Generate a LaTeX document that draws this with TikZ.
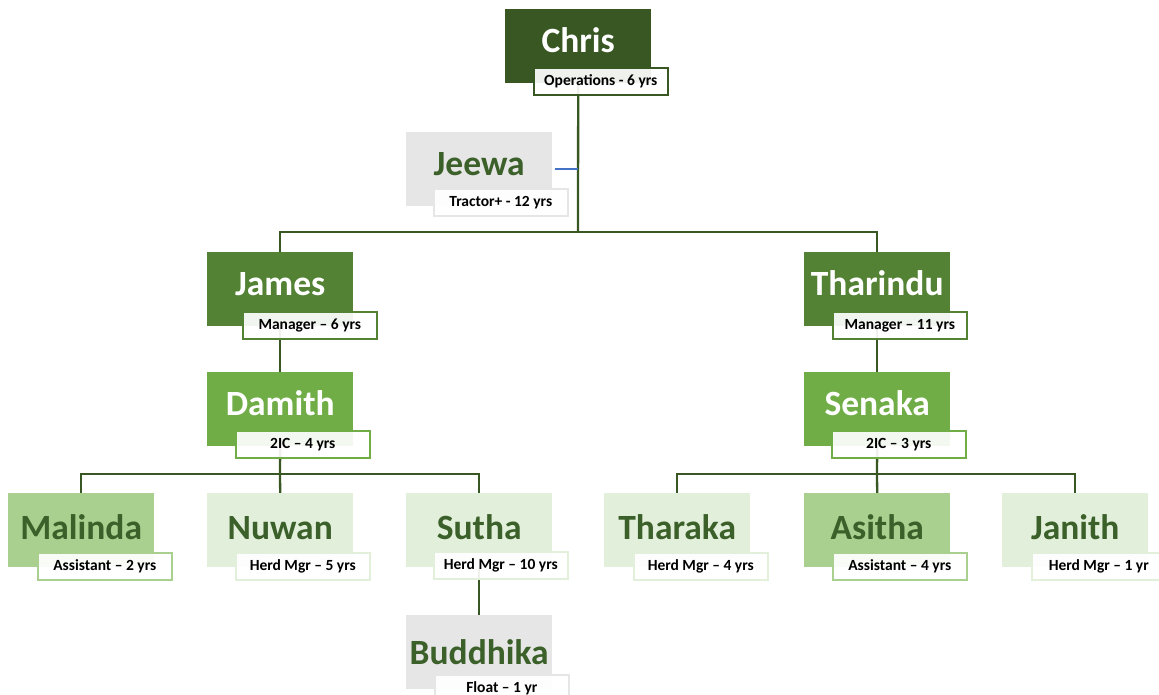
\documentclass[tikz,border=0pt]{standalone}
\usepackage{fontspec}
\setmainfont{Carlito}
\usetikzlibrary{backgrounds,calc}
\definecolor{gA}{HTML}{385723}
\definecolor{gB}{HTML}{548235}
\definecolor{gC}{HTML}{70AD47}
\definecolor{gD}{HTML}{A9D08E}
\definecolor{gE}{HTML}{E2EFDA}
\definecolor{gG}{HTML}{E7E6E6}
\definecolor{txtG}{HTML}{3B6029}
\definecolor{lineG}{HTML}{385723}
\definecolor{lineB}{HTML}{4472C4}
\tikzset{
  person/.style={anchor=north west, minimum width=146pt, minimum height=74pt, inner sep=0pt,
    font=\fontsize{35.5}{38}\selectfont\bfseries},
  rowA/.style={text height=28pt, text depth=16pt},
  rowB/.style={text height=28pt, text depth=16pt},
  rowC/.style={text height=31pt, text depth=13pt},
  rowD/.style={text height=34pt, text depth=10pt},
  darkname/.style={text=white},
  lightname/.style={text=txtG},
  lab/.style={anchor=north west, minimum width=134pt, minimum height=27pt, inner sep=2pt,
    fill=white, fill opacity=0.92, text opacity=1, line width=1.6pt, text=black,
    font=\fontsize{15.5}{17}\selectfont\bfseries},
  conn/.style={draw=lineG, line width=2.3pt},
  aux/.style={draw=lineB, line width=2pt}
}
\begin{document}
\begin{tikzpicture}[x=1pt,y=-1pt]
\useasboundingbox (0,0) rectangle (1159,695);
% boxes
\node[person,rowA,fill=gA,darkname] (chris) at (505,9) {Chris};
\node[lab,draw=gA] (chrisL) at (533,67) {Operations - 6 yrs};
\node[person,rowB,fill=gG,lightname] (jeewa) at (406,132) {Jeewa};
\node[lab,draw=gG] (jeewaL) at (433,188) {Tractor+ - 12 yrs};
\node[person,rowB,fill=gB,darkname] (james) at (207,252) {James};
\node[lab,draw=gB] (jamesL) at (242,311) {Manager – 6 yrs};
\node[person,rowB,fill=gB,darkname] (tharindu) at (804,252) {Tharindu};
\node[lab,draw=gB] (tharinduL) at (832,311) {Manager – 11 yrs};
\node[person,rowB,fill=gC,darkname] (damith) at (207,372) {Damith};
\node[lab,draw=gC] (damithL) at (235,430) {2IC – 4 yrs};
\node[person,rowB,fill=gC,darkname] (senaka) at (804,372) {Senaka};
\node[lab,draw=gC] (senakaL) at (831,430) {2IC – 3 yrs};
\node[person,rowC,fill=gD,lightname] (malinda) at (8,493) {Malinda};
\node[lab,draw=gD] (malindaL) at (37,552) {Assistant – 2 yrs};
\node[person,rowC,fill=gE,lightname] (nuwan) at (207,493) {Nuwan};
\node[lab,draw=gE] (nuwanL) at (235,552) {Herd Mgr – 5 yrs};
\node[person,rowC,fill=gE,lightname] (sutha) at (406,493) {Sutha};
\node[lab,draw=gE] (suthaL) at (433,551) {Herd Mgr – 10 yrs};
\node[person,rowC,fill=gE,lightname] (tharaka) at (604,493) {Tharaka};
\node[lab,draw=gE] (tharakaL) at (633,552) {Herd Mgr – 4 yrs};
\node[person,rowC,fill=gD,lightname] (asitha) at (804,493) {Asitha};
\node[lab,draw=gD] (asithaL) at (832,552) {Assistant – 4 yrs};
\node[person,rowC,fill=gE,lightname] (janith) at (1002,493) {Janith};
\node[lab,draw=gE] (janithL) at (1031,552) {Herd Mgr – 1 yr};
\node[person,rowD,fill=gG,lightname] (buddhika) at (406,615) {Buddhika};
\node[lab,draw=gG] (buddhikaL) at (434,674) {Float – 1 yr};
% junctions
\coordinate (j1) at (578,232);
\coordinate (j2) at (280,474);
\coordinate (j3) at (877,474);
\coordinate (jb) at ($(jeewa.east)+(3,0)$);
\begin{scope}[on background layer]
\draw[conn] (chris.south) -- (j1);
\draw[conn] (james.north) |- (j1) -| (tharindu.north);
\draw[aux] (jb) -- (jb -| j1);
\draw[conn] (james.south) -- (damith.north);
\draw[conn] (tharindu.south) -- (senaka.north);
\draw[conn] (damith.south) -- (j2);
\draw[conn] (malinda.north) |- (j2) -| (sutha.north);
\draw[conn] (j2) -- (nuwan.north);
\draw[conn] (senaka.south) -- (j3);
\draw[conn] (tharaka.north) |- (j3) -| (janith.north);
\draw[conn] (j3) -- (asitha.north);
\draw[conn] (sutha.south) -- (buddhika.north);
\end{scope}
\end{tikzpicture}
\end{document}
